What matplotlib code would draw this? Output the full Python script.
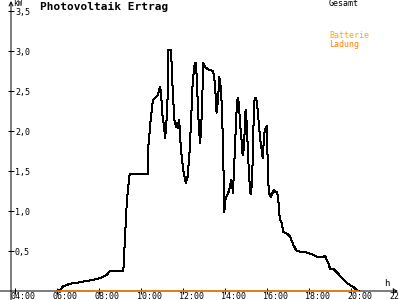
import matplotlib
matplotlib.use("Agg")
import matplotlib.pyplot as plt
from matplotlib.transforms import ScaledTranslation

# ---- data ----
gesamt_h = [6.00, 6.14, 6.29, 6.62, 7.10, 7.71, 8.05, 8.37, 8.52, 9.16, 9.24, 9.33, 9.46,
            10.32, 10.35, 10.46, 10.57, 10.67, 10.80, 10.90, 10.95, 11.03, 11.11, 11.14,
            11.20, 11.27, 11.30, 11.41, 11.46, 11.51, 11.59, 11.67, 11.73, 11.78, 11.82,
            11.86, 11.94, 12.01, 12.14, 12.22, 12.30, 12.38, 12.46, 12.56, 12.60, 12.62,
            12.68, 12.73, 12.81, 12.86, 12.92, 12.97, 13.05, 13.20, 13.35, 13.44, 13.52,
            13.60, 13.67, 13.73, 13.80, 13.86, 13.92, 13.95, 13.97, 14.01, 14.08, 14.16,
            14.24, 14.29, 14.33, 14.38, 14.43, 14.48, 14.54, 14.60, 14.63, 14.68, 14.73,
            14.80, 14.84, 14.89, 14.92, 14.97, 15.00, 15.06, 15.11, 15.16, 15.22, 15.25,
            15.30, 15.35, 15.41, 15.49, 15.56, 15.62, 15.68, 15.75, 15.80, 15.82, 15.89,
            15.99, 16.01, 16.05, 16.08, 16.14, 16.20, 16.27, 16.33, 16.38, 16.49, 16.54,
            16.57, 16.62, 16.70, 16.78, 16.94, 17.10, 17.25, 17.41, 17.65, 17.89, 18.13,
            18.37, 18.60, 18.76, 18.92, 19.00, 19.16, 19.48, 19.80, 20.11, 20.35]
gesamt_kw = [0.00, 0.01, 0.06, 0.09, 0.11, 0.14, 0.16, 0.20, 0.25, 0.25, 0.68, 1.14, 1.46,
             1.46, 1.80, 2.14, 2.39, 2.41, 2.45, 2.55, 2.49, 2.18, 2.04, 1.91,
             2.05, 2.43, 3.01, 3.01, 2.85, 2.51, 2.14, 2.05, 2.10, 2.04, 2.14,
             1.93, 1.68, 1.51, 1.35, 1.43, 1.68, 2.10, 2.60, 2.85, 2.72, 2.85,
             2.51, 2.18, 1.85, 1.98, 2.43, 2.85, 2.80, 2.77, 2.76, 2.74, 2.60,
             2.23, 2.39, 2.68, 2.54, 2.26, 1.64, 1.26, 0.99, 1.14, 1.19, 1.23,
             1.30, 1.39, 1.34, 1.23, 1.51, 1.83, 2.20, 2.41, 2.41, 2.26, 2.06,
             1.85, 1.70, 1.76, 1.89, 2.24, 2.26, 1.95, 1.64, 1.39, 1.21, 1.23,
             1.45, 2.01, 2.41, 2.41, 2.26, 2.06, 1.89, 1.76, 1.66, 1.76, 2.01,
             2.06, 1.83, 1.51, 1.26, 1.19, 1.18, 1.23, 1.26, 1.24, 1.23, 1.14,
             1.01, 0.89, 0.85, 0.74, 0.72, 0.68, 0.58, 0.50, 0.49, 0.48, 0.46,
             0.43, 0.42, 0.44, 0.35, 0.28, 0.28, 0.19, 0.10, 0.05, 0.00]
ladung_h = [6.00, 20.35]
ladung_kw = [0.0, 0.0]

x_ticks = [4, 6, 8, 10, 12, 14, 16, 18, 20, 22]
x_labels = ["04:00", "06:00", "08:00", "10:00", "12:00", "14:00", "16:00", "18:00", "20:00", "22:00"]
y_ticks = [0.5, 1.0, 1.5, 2.0, 2.5, 3.0, 3.5]
y_labels = ["0,5", "1,0", "1,5", "2,0", "2,5", "3,0", "3,5"]

title = "Photovoltaik Ertrag"
unit_y = "kW"
unit_x = "h"

ORANGE = "#ff8000"
GOLD = "#ffaa00"
MONO = "DejaVu Sans Mono"

W, H = 400, 300
fig = plt.figure(figsize=(4, 3), dpi=100)
fig.patch.set_facecolor("white")
ax = fig.add_axes([11 / W, 9 / H, 387 / W, 290 / H])
ax.set_facecolor("white")
x0, x1 = 3.81, 22.24
ax.set_xlim(x0, x1)
ax.set_ylim(0, 3.625)
for s in ax.spines.values():
    s.set_visible(False)

# axes lines with arrows
ax.annotate("", xy=(x1, 0), xytext=(x0 - 11 / 21, 0), xycoords="data",
            arrowprops=dict(arrowstyle="->", lw=0.72, color="black", mutation_scale=7,
                            shrinkA=0, shrinkB=0), annotation_clip=False, zorder=2)
ax.annotate("", xy=(x0, 3.625), xytext=(x0, -9 / 80), xycoords="data",
            arrowprops=dict(arrowstyle="->", lw=0.72, color="black", mutation_scale=7,
                            shrinkA=0, shrinkB=0), annotation_clip=False, zorder=2)

ax.plot(gesamt_h, gesamt_kw, color="black", lw=0.72, antialiased=False, zorder=3)
ax.plot(ladung_h, ladung_kw, color=ORANGE, lw=1.1, zorder=6, clip_on=False)

ax.set_xticks(x_ticks)
ax.set_xticklabels(x_labels, fontsize=6, family=MONO)
ax.set_yticks(y_ticks)
ax.set_yticklabels(y_labels, fontsize=6, family=MONO)
ax.tick_params(axis="x", direction="inout", length=5, width=0.72, pad=-1.5)
ax.tick_params(axis="y", direction="inout", length=4.3, width=0.72, pad=-5.0)
for lbl in ax.get_xticklabels():
    lbl.set_ha("left")
    lbl.set_transform(lbl.get_transform() + ScaledTranslation(-4 / 100, 0, fig.dpi_scale_trans))
for lbl in ax.get_yticklabels():
    lbl.set_ha("left")

fig.text(40 / W, 1 - 7 / H, title, fontsize=8, fontweight="bold", family=MONO,
         va="center", ha="left")
fig.text(13 / W, 1 - 4 / H, unit_y, fontsize=5.5, family=MONO, va="center", ha="left")
fig.text(384 / W, 1 - 283 / H, unit_x, fontsize=6.5, family=MONO, va="center", ha="left")
fig.text(329 / W, 1 - 4 / H, "Gesamt", fontsize=6, family=MONO, va="center", ha="left")
fig.text(329 / W, 1 - 36 / H, "Batterie", fontsize=6, family=MONO, va="center",
         ha="left", color=GOLD)
fig.text(329 / W, 1 - 44 / H, "Ladung", fontsize=6, family=MONO, va="center",
         ha="left", color=ORANGE)

fig.savefig("out.png", dpi=100, facecolor="white")
